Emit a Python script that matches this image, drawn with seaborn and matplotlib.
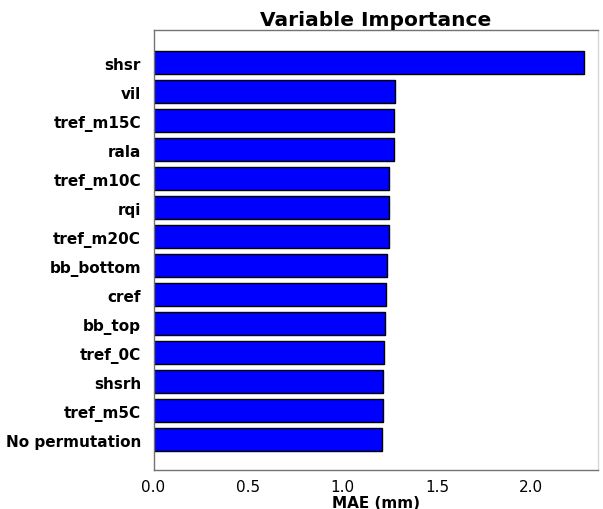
import matplotlib
matplotlib.use("Agg")
import matplotlib.pyplot as plt
import seaborn as sns
import pandas as pd

# Permutation importance: MAE after permuting each predictor
variables = ["shsr", "vil", "tref_m15C", "rala", "tref_m10C", "rqi", "tref_m20C",
             "bb_bottom", "cref", "bb_top", "tref_0C", "shsrh", "tref_m5C",
             "No permutation"]
mae_mm = [2.28, 1.278, 1.273, 1.272, 1.246, 1.246, 1.245,
          1.234, 1.228, 1.225, 1.220, 1.213, 1.212, 1.207]
xticks = [0.0, 0.5, 1.0, 1.5, 2.0]

df = pd.DataFrame({"variable": variables, "mae": mae_mm})

sns.set_style("white")
plt.rcParams["font.family"] = ["DejaVu Sans"]
plt.rcParams["text.color"] = "black"
plt.rcParams["axes.labelcolor"] = "black"
plt.rcParams["xtick.color"] = "black"
plt.rcParams["ytick.color"] = "black"

fig = plt.figure(figsize=(6.03, 5.10), dpi=100)
ax = fig.add_axes([0.2546, 0.0755, 0.737, 0.8635])

sns.barplot(data=df, x="mae", y="variable", orient="h", order=variables,
            color="blue", saturation=1, edgecolor="black", linewidth=1.0,
            width=0.8, ax=ax)

ax.set_xlim(0, 2.352)
ax.set_ylim(14.06, -1.13)
ax.set_xticks(xticks)
ax.set_xticklabels([f"{t:.1f}" for t in xticks], fontsize=11)
ax.tick_params(axis="x", length=3, width=0.8, color="0.4", pad=3)
ax.tick_params(axis="y", length=0, pad=9)
for lbl in ax.get_yticklabels():
    lbl.set_fontsize(11)
    lbl.set_fontweight("bold")

ax.set_ylabel("")
ax.set_xlabel("MAE (mm)", fontsize=11, fontweight="bold", labelpad=1)
ax.set_title("Variable Importance", fontsize=14.5, fontweight="bold", pad=4)

for side in ["left", "bottom", "top", "right"]:
    ax.spines[side].set_visible(True)
    ax.spines[side].set_color("0.45")
    ax.spines[side].set_linewidth(1.0)
ax.spines["right"].set_color("0.85")

fig.savefig("out.png", dpi=100)
